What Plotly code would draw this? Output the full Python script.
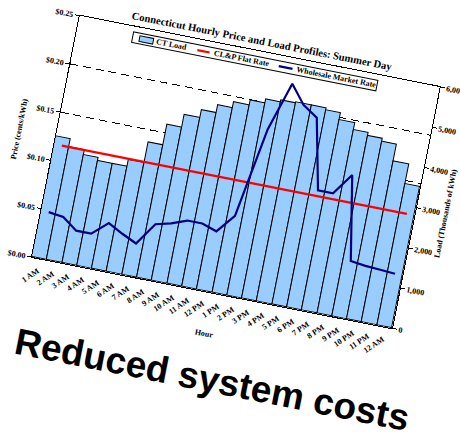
import plotly.graph_objects as go

# ---------------- data ----------------
hours = ["1 AM", "2 AM", "3 AM", "4 AM", "5 AM", "6 AM", "7 AM", "8 AM", "9 AM",
         "10 AM", "11 AM", "12 PM", "1 PM", "2 PM", "3 PM", "4 PM", "5 PM", "6 PM",
         "7 PM", "8 PM", "9 PM", "10 PM", "11 PM", "12 AM"]
ct_load = [3000, 2800, 2680, 2600, 2610, 2780, 3290, 3800, 4110, 4320, 4510, 4670,
           4780, 4870, 4930, 4940, 4940, 4910, 4730, 4560, 4480, 4420, 3990, 3520]
flat_rate = [0.117, 0.117, 0.117, 0.117, 0.117, 0.117, 0.117, 0.117, 0.117, 0.117,
             0.117, 0.117, 0.117, 0.117, 0.117, 0.117, 0.117, 0.117, 0.117, 0.117,
             0.117, 0.117, 0.117, 0.117]
wholesale = [0.048, 0.046, 0.035, 0.035, 0.049, 0.041, 0.034, 0.057, 0.061, 0.067,
             0.067, 0.062, 0.081, 0.174, 0.224, 0.205, 0.195, 0.123, 0.123, 0.145,
             0.059, 0.057, 0.056, 0.055]
price_ticks = [0.0, 0.05, 0.10, 0.15, 0.20, 0.25]
price_labels = ["$0.00", "$0.05", "$0.10", "$0.15", "$0.20", "$0.25"]
load_ticks = [0, 1000, 2000, 3000, 4000, 5000, 6000]
load_labels = ["0", "1,000", "2,000", "3,000", "4,000", "5,000", "6,000"]
legend_names = ["CT Load", "CL&P Flat Rate", "Wholesale Market Rate"]

# ---------------- layout geometry (unrotated frame) ----------------
W, H = 487, 436
ML, MR, MT, MB = 60, 60, 40, 150
PW, PH = W - ML - MR, H - MT - MB   # 367 x 246

SERIF = "Liberation Serif, Times New Roman, serif"
SANS = "Liberation Sans, Arial, sans-serif"
BLUE = "#99CCFF"
RED = "#FF0000"
NAVY = "#000080"


def px(x):
    return x / PW


def py(y):
    return y / PH


fig = go.Figure()
fig.add_trace(go.Bar(x=hours, y=ct_load, name=legend_names[0], yaxis="y",
                     marker=dict(color=BLUE, line=dict(color="black", width=1))))
fig.add_trace(go.Scatter(x=hours, y=flat_rate, name=legend_names[1], yaxis="y2",
                         mode="lines", line=dict(color=RED, width=2.2)))
fig.add_trace(go.Scatter(x=hours, y=wholesale, name=legend_names[2], yaxis="y2",
                         mode="lines", line=dict(color=NAVY, width=2.2)))

tickfont = dict(family=SERIF, size=8, color="black", weight="bold")
titlefont = dict(family=SERIF, size=8, color="black", weight="bold")

# legend drawn as a framed box inside the plot top
shapes = [
    dict(type="rect", xref="paper", yref="paper", x0=px(56), x1=px(305),
         y0=py(229.8), y1=py(240.5), line=dict(color="black", width=1),
         fillcolor="white", layer="above"),
    dict(type="rect", xref="paper", yref="paper", x0=px(63), x1=px(77),
         y0=py(232.2), y1=py(238.0), line=dict(color="black", width=1),
         fillcolor=BLUE, layer="above"),
    dict(type="line", xref="paper", yref="paper", x0=px(122), x1=px(134.5),
         y0=py(235.1), y1=py(235.1), line=dict(color=RED, width=2.2), layer="above"),
    dict(type="line", xref="paper", yref="paper", x0=px(205), x1=px(219),
         y0=py(235.1), y1=py(235.1), line=dict(color=NAVY, width=2.2), layer="above"),
]
legfont = dict(family=SERIF, size=8, color="black", weight="bold")
annotations = [
    dict(text=legend_names[0], xref="paper", yref="paper", x=px(78), y=py(235.1),
         xanchor="left", yanchor="middle", showarrow=False, font=legfont),
    dict(text=legend_names[1], xref="paper", yref="paper", x=px(137), y=py(235.1),
         xanchor="left", yanchor="middle", showarrow=False, font=legfont),
    dict(text=legend_names[2], xref="paper", yref="paper", x=px(221), y=py(235.1),
         xanchor="left", yanchor="middle", showarrow=False, font=legfont),
    dict(text="Reduced system costs", xref="paper", yref="paper", x=px(-2), y=py(-63),
         xanchor="left", yanchor="top", showarrow=False,
         font=dict(family=SANS, size=37, color="black", weight="bold")),
]

fig.update_layout(
    width=W, height=H,
    margin=dict(l=ML, r=MR, t=MT, b=MB, autoexpand=False),
    paper_bgcolor="white", plot_bgcolor="white",
    showlegend=False,
    bargap=0,
    hovermode=False,
    title=dict(text="Connecticut Hourly Price and Load Profiles: Summer Day",
               x=0.5, xref="paper", xanchor="center",
               y=(MB + PH + 10.5) / H, yref="container", yanchor="middle",
               font=dict(family=SERIF, size=10.6, color="black", weight="bold")),
    xaxis=dict(type="category", showline=True, linecolor="black", linewidth=1,
               mirror=True, ticks="", tickangle=-45, tickfont=tickfont,
               ticklabelstandoff=4,
               showgrid=False, automargin=False,
               title=dict(text="Hour", font=titlefont, standoff=8)),
    yaxis=dict(side="right", range=[0, 6000], tickvals=load_ticks, ticktext=load_labels,
               showline=True, linecolor="black", linewidth=1, ticks="outside",
               ticklen=4, tickcolor="black", tickfont=tickfont, showgrid=False,
               zeroline=False, automargin=False,
               title=dict(text="Load (Thousands of kWh)", font=titlefont, standoff=3)),
    yaxis2=dict(overlaying="y", side="left", range=[0, 0.25], tickvals=price_ticks,
                ticktext=price_labels, showline=True, linecolor="black", linewidth=1,
                ticks="outside", ticklen=4, tickcolor="black", tickfont=tickfont,
                showgrid=True, gridcolor="black", gridwidth=1, griddash="8px,5px",
                zeroline=False, automargin=False,
                title=dict(text="Price (cents/kWh)", font=titlefont, standoff=8)),
    shapes=shapes,
    annotations=annotations,
)

js = """
document.documentElement.style.overflow='hidden';
document.body.style.margin='0';
document.body.style.overflow='hidden';
var d=document.getElementById('{plot_id}');
d.style.transformOrigin='%dpx %dpx';
d.style.transform='translate(%dpx,%dpx) rotate(11.2deg)';
""" % (ML, MT + PH, 32 - ML, 257 - (MT + PH))

fig.write_html("out.html", config={"displayModeBar": False}, post_script=js,
               default_width=W, default_height=H)
